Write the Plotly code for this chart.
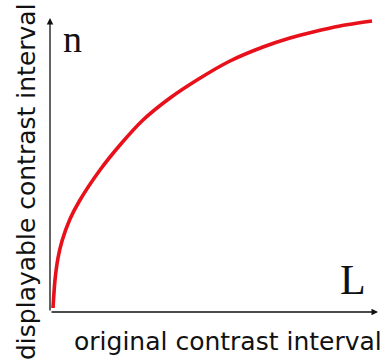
import plotly.graph_objects as go

# Curve samples (original contrast L vs displayable contrast n), arbitrary units
L_values = [3, 5, 8, 12, 20, 30, 50, 70, 93, 120, 147, 180, 213, 240, 263, 290, 322]
n_values = [4, 32, 54, 71, 93, 112, 142, 167, 192, 214, 232, 251, 265, 274, 280, 286, 291]

x_label = "original contrast interval"
y_label = "displayable contrast interval"
x_symbol = "L"
y_symbol = "n"

X_MAX = 328
Y_MAX = 294
W, H = 391, 362
ML, MR, MT, MB = 50, 13, 18, 50


def px_to_paper_x(px):
    return (px - ML) / (W - ML - MR)


def py_to_paper_y(py):
    return (H - MB - py) / (H - MT - MB)


fig = go.Figure()
fig.add_trace(go.Scatter(
    x=L_values, y=n_values, mode="lines",
    line=dict(color="#e8101a", width=3.6, shape="spline", smoothing=0.8),
    hoverinfo="skip", showlegend=False,
))

# axis arrows
fig.add_annotation(x=0, y=Y_MAX, ax=0, ay=0, xref="x", yref="y", axref="x", ayref="y",
                   text="", showarrow=True, arrowhead=2, arrowsize=1, arrowwidth=1.3,
                   arrowcolor="#111111", standoff=0, startstandoff=0)
fig.add_annotation(x=X_MAX, y=0, ax=0, ay=0, xref="x", yref="y", axref="x", ayref="y",
                   text="", showarrow=True, arrowhead=2, arrowsize=1, arrowwidth=1.3,
                   arrowcolor="#111111", standoff=0, startstandoff=0)

# symbols
fig.add_annotation(x=px_to_paper_x(72), y=py_to_paper_y(39), xref="paper", yref="paper",
                   text=y_symbol, showarrow=False,
                   font=dict(family="Liberation Serif", size=38, color="#111111"),
                   xanchor="center", yanchor="middle")
fig.add_annotation(x=px_to_paper_x(353), y=py_to_paper_y(280), xref="paper", yref="paper",
                   text=x_symbol, showarrow=False,
                   font=dict(family="Liberation Serif", size=42, color="#111111"),
                   xanchor="center", yanchor="middle")

# labels
fig.add_annotation(x=px_to_paper_x(228), y=py_to_paper_y(342), xref="paper", yref="paper",
                   text=x_label, showarrow=False,
                   font=dict(family="DejaVu Sans", size=25, color="#111111"),
                   xanchor="center", yanchor="middle")
fig.add_annotation(x=px_to_paper_x(26), y=py_to_paper_y(182), xref="paper", yref="paper",
                   text=y_label, showarrow=False, textangle=-90,
                   font=dict(family="DejaVu Sans", size=25, color="#111111"),
                   xanchor="center", yanchor="middle")

fig.update_xaxes(range=[0, X_MAX], visible=False, fixedrange=True)
fig.update_yaxes(range=[0, Y_MAX], visible=False, fixedrange=True)
fig.update_layout(
    width=W, height=H,
    margin=dict(l=ML, r=MR, t=MT, b=MB),
    paper_bgcolor="white", plot_bgcolor="white",
)

fig.write_html("out.html", config={"displayModeBar": False},
               post_script="document.body.style.margin='0';")
